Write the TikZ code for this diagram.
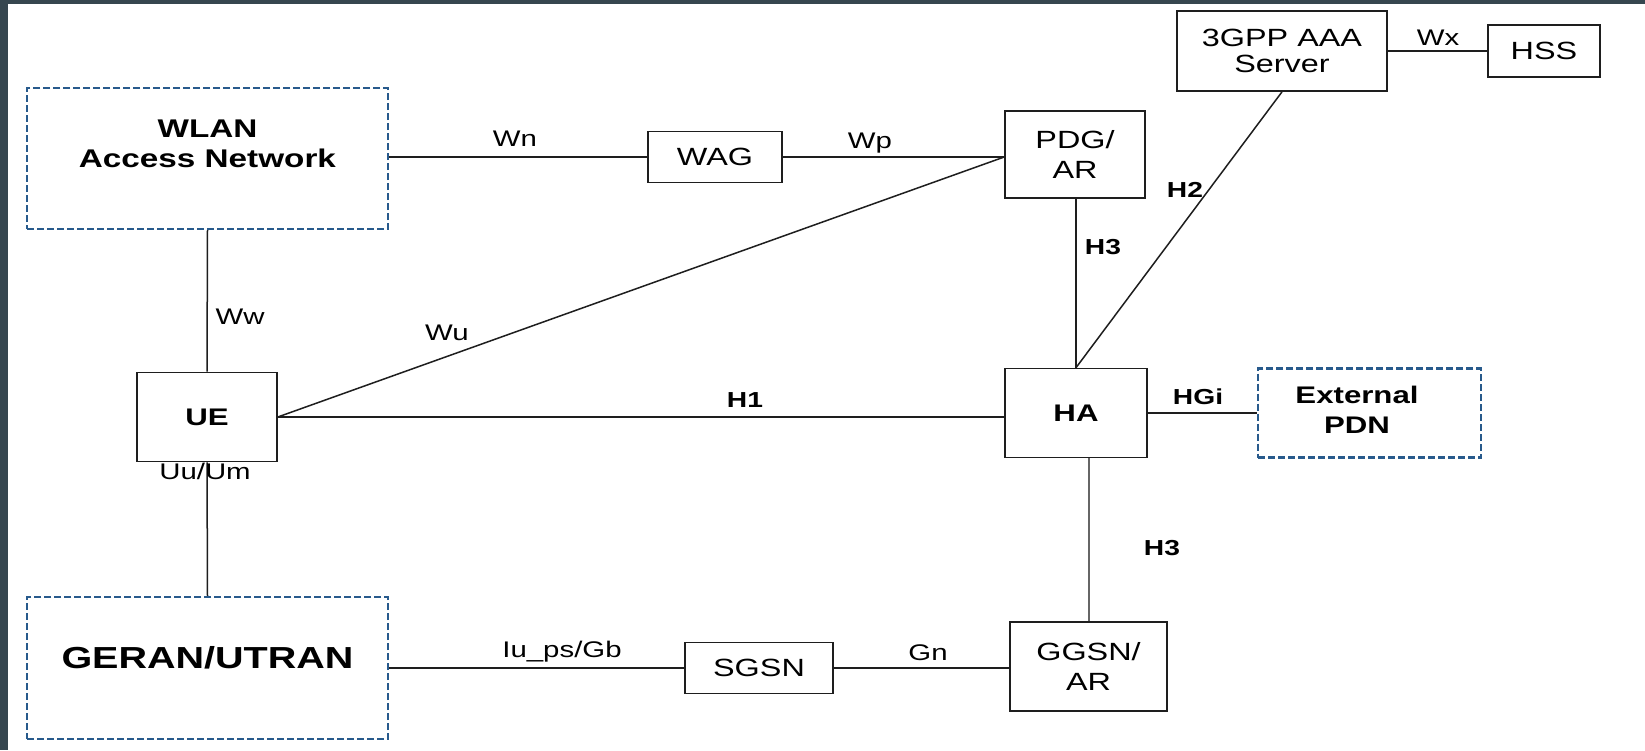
\documentclass[tikz,border=0pt]{standalone}
\usepackage{fontspec}
\setmainfont{Liberation Sans}[FakeStretch=1.3]
\definecolor{slate}{RGB}{54,70,79}
\definecolor{dblue}{RGB}{40,90,140}
\definecolor{ink}{RGB}{30,30,30}
\begin{document}
\begin{tikzpicture}[x=1pt,y=-1pt,
  box/.style={draw=ink, line width=1.6pt, inner sep=0pt, align=center, font=\fontsize{24.9}{30}\selectfont},
  bbox/.style={box, font=\bfseries\fontsize{24}{30}\selectfont},
  dbox/.style={draw=dblue, line width=2.2pt, dash pattern=on 7pt off 3pt, inner sep=0pt, align=center},
  conn/.style={draw=ink, line width=1.5pt},
  lbl/.style={font=\fontsize{22.6}{24}\selectfont, inner sep=0pt},
  blbl/.style={font=\bfseries\fontsize{21.7}{24}\selectfont, inner sep=0pt},
  btxt/.style={font=\bfseries\fontsize{25.6}{30}\selectfont, align=center, inner sep=0pt}
]
\useasboundingbox (0,0) rectangle (1645,750);
\fill[slate] (0,0) rectangle (1645,750);
\fill[white] (8,4) rectangle (1645,750);

% boxes
\node[dbox, minimum width=361pt, minimum height=141pt] (wlan) at (207.5,158.5) {};
\node[btxt] (wlant) at (207.5,144) {WLAN\\Access Network};
\node[box, minimum width=134pt, minimum height=51pt] (wag) at (715,157) {WAG};
\node[box, minimum width=140pt, minimum height=87pt] (pdg) at (1075,154.5) {PDG/\\AR};
\node[box, minimum width=210pt, minimum height=80pt, font=\fontsize{24.9}{26}\selectfont] (aaa) at (1282,51) {3GPP AAA\\Server};
\node[box, minimum width=112pt, minimum height=52pt] (hss) at (1544,51) {HSS};
\node[bbox, minimum width=142pt, minimum height=89pt] (ha) at (1076,413) {HA};
\node[dbox, minimum width=223pt, minimum height=89pt] (pdn) at (1369.5,413) {};
\node[btxt, font=\bfseries\fontsize{24}{30}\selectfont] (pdnt) at (1357,410) {External\\PDN};
\node[bbox, minimum width=140pt, minimum height=89pt] (ue) at (207,417) {UE};
\node[dbox, minimum width=361pt, minimum height=142pt] (geran) at (207.5,668) {};
\node[font=\bfseries\fontsize{30.4}{32}\selectfont, inner sep=0pt] (gerant) at (207.5,658) {GERAN/UTRAN};
\node[box, minimum width=148pt, minimum height=51pt] (sgsn) at (759,668) {SGSN};
\node[box, minimum width=157pt, minimum height=89pt] (ggsn) at (1088.5,666.5) {GGSN/\\AR};

% connectors
\coordinate (pdgin) at (pdg.west |- wag.east);
\draw[conn] (wlan.east |- wag.west) -- (wag.west);
\draw[conn] (wag.east) -- (pdgin);
\draw[conn] (ue.east) -- (pdgin);
\draw[conn] (ue.east) -- (ue.east -| ha.west);
\draw[conn] (aaa.east) -- (aaa.east -| hss.west);
\draw[conn] (aaa.south) -- (ha.north);
\draw[conn] (pdg.south -| ha.north) -- (ha.north);
\draw[conn] (ha.east) -- (pdn.west);
\draw[conn] (wlan.south) -- (ue.north);
\draw[conn] (ue.south) -- (geran.north);
\draw[conn] (geran.east) -- (geran.east -| sgsn.west);
\draw[conn] (sgsn.east) -- (sgsn.east -| ggsn.west);
\draw[conn, draw=black!60, line width=2pt] (ha.south -| ggsn.north) -- (ggsn.north);

% labels
\node[lbl] (lwn) at (515,139) {Wn};
\node[lbl] (lwp) at (870,143) {Wp};
\node[lbl] (lwu) at (447,333) {Wu};
\node[lbl] (lww) at (240,317) {Ww};
\node[lbl] (luu) at (205,471) {Uu/Um};
\node[lbl] (liu) at (562,652) {Iu\_ps/Gb};
\node[lbl] (lgn) at (928,653) {Gn};
\node[lbl] (lwx) at (1438,38) {Wx};
\node[blbl] (lh1) at (745,400) {H1};
\node[blbl] (lh2) at (1185,190) {H2};
\node[blbl] (lh3a) at (1103,247) {H3};
\node[blbl] (lh3b) at (1162,548) {H3};
\node[blbl] (lhgi) at (1198,397) {HGi};
\end{tikzpicture}
\end{document}
